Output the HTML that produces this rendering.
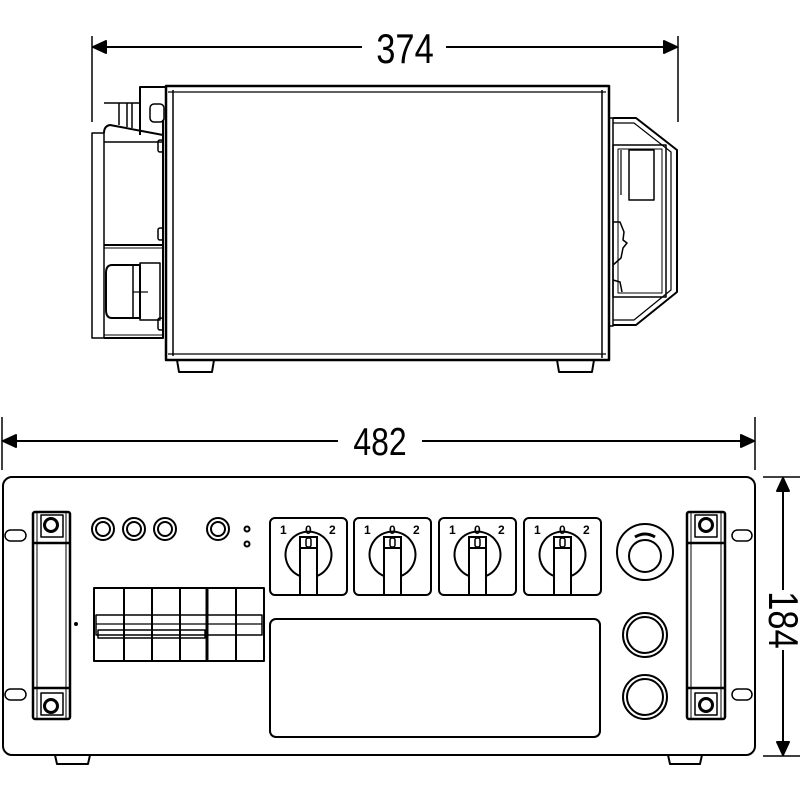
<!DOCTYPE html>
<html><head><meta charset="utf-8"><style>
html,body{margin:0;padding:0;background:#fff}
svg{display:block}
text{font-family:"Liberation Sans",sans-serif;fill:#000}
</style></head><body>
<svg width="800" height="800" viewBox="0 0 800 800" xmlns="http://www.w3.org/2000/svg">
<g fill="none" stroke="#000" stroke-width="2" stroke-linejoin="round">
<!-- 374 dimension -->
<line x1="92" y1="36" x2="92" y2="122" stroke-width="1.5"/>
<line x1="678" y1="36" x2="678" y2="122" stroke-width="1.5"/>
<line x1="94" y1="47" x2="362" y2="47"/>
<line x1="446" y1="47" x2="676" y2="47"/>
<polygon points="93,47 106,41 106,53" fill="#000"/>
<polygon points="677,47 664,41 664,53" fill="#000"/>

<!-- side view main box -->
<rect x="166" y="86" width="443" height="274" stroke-width="2.5"/>
<line x1="173" y1="90" x2="173" y2="356" stroke-width="1.5"/>
<line x1="168" y1="92" x2="606" y2="92" stroke-width="1.2"/>
<line x1="602" y1="90" x2="602" y2="358" stroke-width="1.5"/>
<line x1="168" y1="354" x2="606" y2="354" stroke-width="1.2"/>
<path d="M177,360 L179,372 L212,372 L214,360"/>
<path d="M557,360 L559,372 L592,372 L594,360"/>
<!-- left box -->
<rect x="92" y="133" width="12" height="205" stroke-width="1.5"/>
<path d="M104,133 Q104,126 110,125 L163,135 L163,338 L104,338"/>
<line x1="104" y1="142" x2="163" y2="142" stroke-width="1.5"/>
<line x1="104" y1="245" x2="163" y2="245"/>
<line x1="104" y1="248" x2="163" y2="248" stroke-width="1"/>
<line x1="104" y1="335" x2="163" y2="335" stroke-width="1"/>
<path d="M112,265 L140,265 L140,318 L112,318 Q106,318 106,310 L106,273 Q106,265 112,265"/>
<line x1="133" y1="265" x2="133" y2="318" stroke-width="1.5"/>
<line x1="133" y1="292" x2="148" y2="292" stroke-width="1.2"/>
<rect x="140" y="263" width="20" height="57" stroke-width="1.5"/>
<rect x="158" y="140" width="5" height="12" rx="2" stroke-width="1.5"/>
<rect x="158" y="228" width="5" height="12" rx="2" stroke-width="1.5"/>
<rect x="158" y="318" width="5" height="12" rx="2" stroke-width="1.5"/>
<!-- top bracket -->
<path d="M140,135 L140,87 L166,87"/>
<path d="M104,103 L140,103" stroke-width="1.5"/>
<line x1="119" y1="103" x2="119" y2="125" stroke-width="1.5"/>
<line x1="127" y1="103" x2="127" y2="127" stroke-width="1.5"/>
<line x1="132" y1="103" x2="132" y2="128" stroke-width="1.5"/>
<rect x="150" y="104" width="14" height="18" rx="4" stroke-width="1.5"/>
<line x1="163" y1="120" x2="163" y2="135"/>
<!-- right handle -->
<rect x="609" y="118" width="4" height="208" stroke-width="1.5"/>
<path d="M613,118 L636,118 L677,150 L677,292 L636,325 L613,325"/>
<path d="M613,123 L634,123 L671,152 L671,290 L634,320 L613,320" stroke-width="1.2"/>
<rect x="613" y="145" width="53" height="152" stroke-width="1.5"/>
<rect x="618" y="149" width="44" height="144" stroke-width="1"/>
<rect x="629" y="150" width="25" height="50" stroke-width="1.5"/>
<line x1="621" y1="150" x2="621" y2="195" stroke-width="1.2"/>
<path d="M613,222 L620,222 L624,232 L623,240 L627,243 L623,248 L621,258 L613,265" stroke-width="1.5"/>
<path d="M613,280 L620,282 L622,292" stroke-width="1.5"/>

<!-- 482 dimension -->
<line x1="2" y1="417" x2="2" y2="470" stroke-width="1.5"/>
<line x1="755" y1="417" x2="755" y2="470" stroke-width="1.5"/>
<line x1="4" y1="441" x2="338" y2="441"/>
<line x1="422" y1="441" x2="753" y2="441"/>
<polygon points="3,441 16,435 16,447" fill="#000"/>
<polygon points="754,441 741,435 741,447" fill="#000"/>

<!-- 184 dimension -->
<line x1="763" y1="477" x2="800" y2="477" stroke-width="1.5"/>
<line x1="763" y1="756" x2="800" y2="756" stroke-width="1.5"/>
<line x1="783" y1="479" x2="783" y2="590"/>
<line x1="783" y1="650" x2="783" y2="754"/>
<polygon points="783,478 777,491 789,491" fill="#000"/>
<polygon points="783,755 777,742 789,742" fill="#000"/>

<!-- front panel -->
<rect x="3" y="477" width="752" height="278" rx="9"/>
<path d="M55,755 L57,764 L88,764 L90,755"/>
<path d="M668,755 L670,764 L700,764 L702,755"/>
<rect x="5" y="530" width="21" height="11" rx="5.5" stroke-width="1.5"/>
<rect x="5" y="689" width="21" height="11" rx="5.5" stroke-width="1.5"/>
<rect x="732" y="530" width="20" height="11" rx="5.5" stroke-width="1.5"/>
<rect x="732" y="689" width="20" height="11" rx="5.5" stroke-width="1.5"/>
<!-- left handle -->
<rect x="33" y="512" width="37" height="207" rx="2" stroke-width="2.5"/>
<line x1="37" y1="512" x2="37" y2="719" stroke-width="1"/>
<line x1="66" y1="512" x2="66" y2="719" stroke-width="1"/>
<line x1="33" y1="543" x2="70" y2="543" stroke-width="2.5"/>
<line x1="33" y1="688" x2="70" y2="688" stroke-width="2.5"/>
<rect x="41" y="515" width="22" height="22" stroke-width="1.5"/>
<rect x="41" y="693" width="22" height="22" stroke-width="1.5"/>
<circle cx="51" cy="525" r="6.5" stroke-width="3"/>
<circle cx="51" cy="706" r="6.5" stroke-width="3"/>
<!-- right handle -->
<rect x="687" y="512" width="38" height="207" rx="2" stroke-width="2.5"/>
<line x1="691" y1="512" x2="691" y2="719" stroke-width="1"/>
<line x1="721" y1="512" x2="721" y2="719" stroke-width="1"/>
<line x1="687" y1="543" x2="725" y2="543" stroke-width="2.5"/>
<line x1="687" y1="688" x2="725" y2="688" stroke-width="2.5"/>
<rect x="695" y="515" width="22" height="22" stroke-width="1.5"/>
<rect x="695" y="693" width="22" height="22" stroke-width="1.5"/>
<circle cx="706" cy="525" r="6.5" stroke-width="3"/>
<circle cx="706" cy="705" r="6.5" stroke-width="3"/>
<!-- knobs -->
<circle cx="103" cy="529" r="11"/><circle cx="103" cy="529" r="7"/>
<circle cx="134" cy="529" r="11"/><circle cx="134" cy="529" r="7"/>
<circle cx="165" cy="529" r="11"/><circle cx="165" cy="529" r="7"/>
<circle cx="218" cy="529" r="11"/><circle cx="218" cy="529" r="7"/>
<circle cx="247" cy="529" r="2.5"/><circle cx="247" cy="544" r="2.5"/>
<circle cx="76" cy="624" r="1" fill="#000"/>
<!-- breakers -->
<rect x="94" y="588" width="170" height="73"/>
<line x1="124" y1="588" x2="124" y2="661"/>
<line x1="152" y1="588" x2="152" y2="661"/>
<line x1="180" y1="588" x2="180" y2="661"/>
<line x1="207" y1="588" x2="207" y2="661" stroke-width="3"/>
<line x1="236" y1="588" x2="236" y2="661"/>
<rect x="96" y="615" width="166" height="20" stroke-width="1.5"/>
<line x1="96" y1="624" x2="262" y2="624" stroke-width="1.2"/>
<rect x="98" y="630" width="107" height="8" stroke-width="1.5"/>
<!-- display -->
<rect x="270" y="619" width="330" height="118" rx="6"/>
<!-- right buttons -->
<circle cx="645" cy="552" r="28"/>
<circle cx="645" cy="556" r="16"/>
<path d="M635,537 Q645,531 655,537" stroke-width="3"/>
<circle cx="645" cy="635" r="22"/><circle cx="645" cy="635" r="18"/>
<circle cx="645" cy="697" r="22"/><circle cx="645" cy="697" r="18"/>
</g>
<!-- switches -->
<g id="sw" fill="none" stroke="#000" stroke-width="2">
<rect x="270" y="518" width="77" height="77" rx="5"/>
<path d="M300,576 A23,23 0 1 1 317,576" />
<path d="M300,595 L300,537 L317,537 L317,595"/>
<line x1="300" y1="548" x2="317" y2="548"/>
<rect x="306" y="538" width="5" height="9" rx="2" stroke-width="1.5"/>
</g>
<use href="#sw" x="84"/><use href="#sw" x="169"/><use href="#sw" x="254"/>
<g font-size="12" font-weight="bold">
<text x="280" y="534">1</text><text x="305" y="534">0</text><text x="329" y="534">2</text>
<text x="364" y="534">1</text><text x="389" y="534">0</text><text x="413" y="534">2</text>
<text x="449" y="534">1</text><text x="474" y="534">0</text><text x="498" y="534">2</text>
<text x="534" y="534">1</text><text x="559" y="534">0</text><text x="583" y="534">2</text>
</g>
<text x="405" y="63" font-size="42" text-anchor="middle" transform="translate(405 0) scale(0.82 1) translate(-405 0)">374</text>
<text x="380" y="455" font-size="39" text-anchor="middle" transform="translate(380 0) scale(0.82 1) translate(-380 0)">482</text>
<text x="0" y="0" font-size="42" text-anchor="middle" transform="translate(769 620) rotate(90) scale(0.82 1)">184</text>
</svg>
</body></html>
